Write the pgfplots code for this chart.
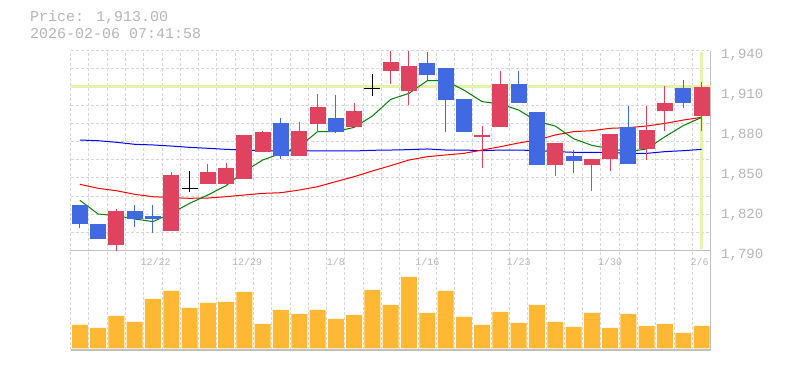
\documentclass[border=0pt]{standalone}
\usepackage{pgfplots}
\pgfplotsset{compat=1.18}
\usepackage{pgfplotstable}
\usepackage{fontspec}
\setmainfont{Liberation Sans}
\newfontfamily\mono{Liberation Mono}
\definecolor{upred}{RGB}{224,67,95}
\definecolor{downblue}{RGB}{65,105,225}
\definecolor{volorange}{RGB}{255,184,51}
\definecolor{hl}{RGB}{228,242,170}
\definecolor{gridc}{RGB}{214,214,214}
\definecolor{axisc}{RGB}{192,192,192}
\definecolor{txt}{RGB}{182,182,182}

% up candles (close > open)
\pgfplotstableread{
x  O      H      L      C
2  1794   1821   1790   1820
5  1805   1849   1805   1847
7  1840   1855   1840   1849
8  1840   1856   1840   1852
9  1844   1877   1844   1877
10 1864   1880   1864   1879
12 1861   1886.5 1861   1880
13 1885   1907.5 1879   1898
15 1883   1901   1883   1895
17 1925   1940   1915   1931.5
18 1910   1940   1899   1928.5
22 1875   1883.5 1852   1876.5
23 1883   1925   1883   1915
26 1854   1871   1846   1871
28 1854   1859   1835   1859
29 1859   1877.5 1850   1877.5
31 1866.5 1898.5 1858   1880.5
32 1895   1913.5 1880   1901
34 1891   1916.5 1880   1913
}\uptab

% down candles (close < open)
\pgfplotstableread{
x  O      H      L      C
0  1824   1824   1807   1810
1  1810   1810   1799   1799
3  1820   1824   1808   1814
4  1816   1824   1803   1814
11 1886   1889.5 1859   1861
14 1889.5 1907   1878.5 1879
19 1931   1939   1918   1922
20 1927   1927   1879   1903
21 1904   1904   1879   1879
24 1915   1925   1901   1901
25 1894   1894   1854   1854
27 1861   1865.5 1848.5 1857
30 1883   1898.5 1855   1855
33 1912   1918   1897   1901
}\downtab

% unchanged candles
\pgfplotstableread{
x  O      H      L      C
6  1837   1850   1834   1837
16 1911.5 1922.5 1906   1911.5
}\flattab

\pgfplotstableread{
x  ma5    ma25   ma75   vol
0  1827.8 1839.8 1873.0 23.3
1  1817.5 1836.8 1872.5 20.3
2  1816.3 1835.0 1871.3 32.3
3  1813.8 1832.3 1869.8 26.3
4  1811.8 1830.5 1869.3 49.3
5  1818.0 1829.8 1868.5 57.3
6  1825.5 1829.3 1867.5 40.3
7  1831.8 1829.5 1866.8 45.3
8  1838.8 1830.5 1866.0 46.3
9  1849.5 1831.8 1865.5 56.3
10 1858.0 1833.0 1865.0 24.3
11 1863.0 1833.5 1864.8 38.3
12 1868.0 1835.5 1864.8 34.3
13 1879.3 1838.0 1864.8 38.3
14 1879.3 1841.8 1864.8 29.3
15 1882.5 1845.5 1864.8 33.3
16 1891.0 1849.8 1865.3 58.3
17 1903.5 1853.8 1865.5 43.3
18 1908.0 1858.0 1865.8 71.3
19 1917.5 1860.5 1866.3 35.3
20 1917.5 1861.8 1865.5 57.3
21 1910.5 1863.0 1865.5 31.3
22 1901.8 1865.5 1865.0 23.3
23 1900.0 1868.0 1865.5 36.3
24 1895.5 1870.8 1865.5 25.3
25 1887.0 1873.0 1865.0 43.3
26 1883.5 1876.8 1864.3 26.3
27 1874.0 1879.3 1863.8 21.3
28 1869.0 1880.0 1863.8 35.3
29 1866.5 1881.8 1863.8 20.3
30 1864.3 1882.3 1863.0 34.3
31 1866.3 1883.5 1863.0 22.3
32 1875.5 1885.5 1864.3 24.3
33 1883.8 1888.0 1865.0 15.3
34 1890.0 1890.0 1866.0 22.3
}\matab

\pgfplotsset{
  chartbase/.style={
    scale only axis, anchor=south west,
    xmin=-0.5, xmax=34.5,
    axis x line*=bottom, axis y line*=right,
    axis line style={-, draw=axisc, line width=1.2pt},
    xtick={-0.5,0.5,...,34.5}, xticklabels={},
    xmajorgrids,
    grid style={draw=gridc, dash pattern=on 3pt off 2pt, line width=1pt},
    major tick length=0pt, minor tick length=0pt,
    tick style={draw=none},
  },
}

\begin{document}
\begin{tikzpicture}[x=1pt,y=1pt]
\path[use as bounding box, fill=white] (0,0) rectangle (785,370);
\node[anchor=west, text=txt, font=\mono\fontsize{15}{15}\selectfont, inner sep=0pt] at (30,352.3) {Price: 1,913.00};
\node[anchor=west, text=txt, font=\mono\fontsize{15}{15}\selectfont, inner sep=0pt] at (30,336.7) {2026-02-06 07:41:58};

% volume panel
\begin{axis}[chartbase,
  at={(70.7pt,20pt)}, width=640pt, height=99.3pt,
  ymin=-1.7, ymax=97.6, ytick=\empty,
]
\addplot[ybar, bar width=16pt, fill=volorange, draw=none] table[x=x, y=vol] {\matab};
\end{axis}

% price panel
\begin{axis}[chartbase,
  at={(70.7pt,119.3pt)}, width=640pt, height=200pt,
  ymin=1790, ymax=1940, clip=false,
  ytick={1790,1803.636,1817.273,1830.909,1844.545,1858.182,1871.818,1885.455,1899.091,1912.727,1926.364,1940},
  yticklabels={},
  ymajorgrids,
  extra x ticks={4.15,9.15,14,19,24,29,33.9},
  extra x tick labels={12/22,12/29,1/8,1/16,1/23,1/30,2/6},
  extra x tick style={grid=none},
  extra y ticks={1790,1820,1850,1880,1910,1940},
  extra y tick labels={{1,790},{1,820},{1,850},{1,880},{1,910},{1,940}},
  extra y tick style={grid=none},
  xticklabel style={font=\mono\fontsize{10}{11}\selectfont, text=txt, yshift=-4.5pt},
  yticklabel style={font=\mono\fontsize{14}{14}\selectfont, text=txt, anchor=west, xshift=7pt, yshift=-4.5pt},
]
% highlight lines
\addplot[hl, line width=3pt, forget plot] coordinates {(-0.5,1913) (34.5,1913)};
\addplot[hl, line width=3pt, forget plot] coordinates {(34,1791) (34,1939)};
% moving averages
\addplot[draw=blue, line width=1pt, mark=none] table[x=x, y=ma75] {\matab};
\addplot[draw=red, line width=1pt, mark=none] table[x=x, y=ma25] {\matab};
\addplot[draw=green!50!black, line width=1pt, mark=none] table[x=x, y=ma5] {\matab};
% wicks
\addplot[draw=none, mark=none, forget plot, error bars/.cd, y dir=plus, y explicit, error mark=none,
  error bar style={draw=upred, line width=1pt}]
  table[x=x, y=L, y error expr=\thisrow{H}-\thisrow{L}] {\uptab};
\addplot[draw=none, mark=none, forget plot, error bars/.cd, y dir=plus, y explicit, error mark=none,
  error bar style={draw=downblue, line width=1pt}]
  table[x=x, y=L, y error expr=\thisrow{H}-\thisrow{L}] {\downtab};
\addplot[draw=none, mark=none, forget plot, error bars/.cd, y dir=plus, y explicit, error mark=none,
  error bar style={draw=black, line width=1pt}]
  table[x=x, y=L, y error expr=\thisrow{H}-\thisrow{L}] {\flattab};
% bodies
\addplot[draw=none, mark=none, forget plot, error bars/.cd, y dir=plus, y explicit, error mark=none,
  error bar style={draw=upred, line width=16pt}]
  table[x=x, y=O, y error expr=\thisrow{C}-\thisrow{O}] {\uptab};
\addplot[draw=none, mark=none, forget plot, error bars/.cd, y dir=plus, y explicit, error mark=none,
  error bar style={draw=downblue, line width=16pt}]
  table[x=x, y=C, y error expr=\thisrow{O}-\thisrow{C}] {\downtab};
\addplot[only marks, mark=-, mark size=8pt, mark options={draw=black, line width=1pt}, forget plot]
  table[x=x, y=C] {\flattab};
\end{axis}
\end{tikzpicture}
\end{document}
